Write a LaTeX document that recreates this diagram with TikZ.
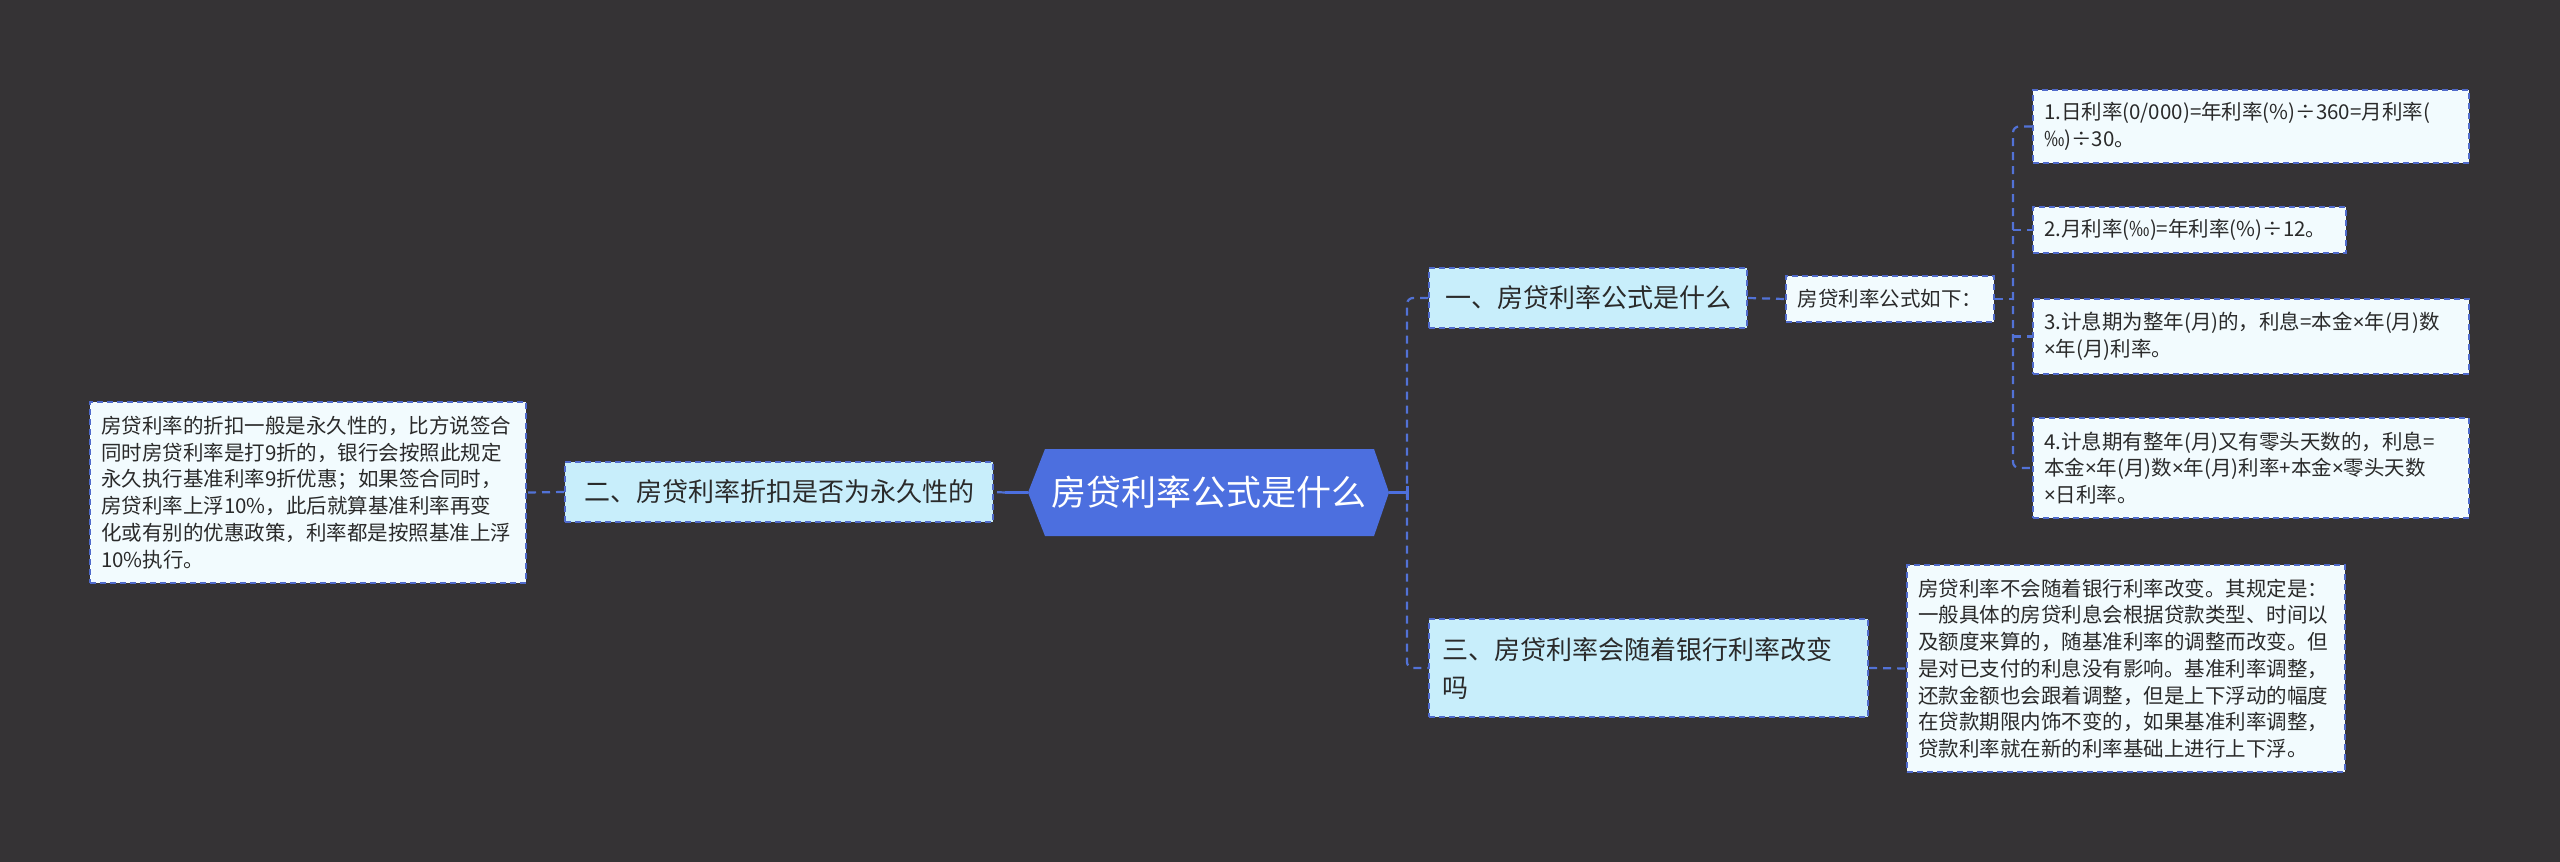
\documentclass[tikz,border=0pt]{standalone}
\usepackage{fontspec}
\setmainfont{Noto Sans CJK SC}
\newfontfamily\latf{Noto Sans}
\newcommand{\tms}{{\latf ×}}
\definecolor{bg}{HTML}{353335}
\definecolor{rootc}{HTML}{4C6FDF}
\definecolor{lonefill}{HTML}{C8EEFB}
\definecolor{detfill}{HTML}{F2FBFE}
\definecolor{boxline}{HTML}{4F6ACB}
\definecolor{linec}{HTML}{5272D6}
\definecolor{txt}{HTML}{2A2A2A}
\begin{document}
\begin{tikzpicture}[x=1pt,y=-1pt,
  box/.style={draw=boxline, dash pattern=on 6pt off 4pt, line width=2pt, inner ysep=0pt, anchor=center},
  lone/.style={box, fill=lonefill, text=txt, inner xsep=13pt, minimum height=60pt, font=\fontsize{26}{38}\selectfont},
  det/.style={box, fill=detfill, text=txt, inner xsep=11pt, align=left, font=\fontsize{20.5}{26.7}\selectfont},
  conn/.style={draw=linec, line width=2.2pt, dash pattern=on 8pt off 6pt},
  rootline/.style={draw=rootc, line width=3pt}]
\fill[bg] (0,0) rectangle (2560,862);
\useasboundingbox (0,0) rectangle (2560,862);

% root hexagon
\fill[rootc] (1028,492.5) -- (1045,449) -- (1374,449) -- (1389,492.5) -- (1374,536) -- (1045,536) -- cycle;
\node[inner sep=0pt, minimum width=361pt, minimum height=87pt, text=white, font=\fontsize{35}{40}\selectfont] (root) at (1208.5,492.5) {房贷利率公式是什么};

% level one
\node[lone, minimum width=318pt] (n1) at (1588,298) {一、房贷利率公式是什么};
\node[lone, minimum width=428pt] (n2) at (779,492) {二、房贷利率折扣是否为永久性的};
\node[lone, minimum width=439pt, minimum height=98pt, text width=413pt, align=left] (n3) at (1648.5,668) {三、房贷利率会随着银行利率改变\\吗};

% details
\node[det, minimum width=208pt, minimum height=46pt, align=center] (n1d) at (1890,299) {房贷利率公式如下：};
\node[det, text width=414pt, minimum height=181pt] (n2d) at (308,492.5) {房贷利率的折扣一般是永久性的，比方说签合\\同时房贷利率是打9折的，银行会按照此规定\\永久执行基准利率9折优惠；如果签合同时，\\房贷利率上浮10\%，此后就算基准利率再变\\化或有别的优惠政策，利率都是按照基准上浮\\10\%执行。};
\node[det, text width=414pt, minimum height=73pt] (i1) at (2251,126.5) {1.日利率(0/000)=年利率(\%)÷360=月利率(\\‰)÷30。};
\node[det, text width=291pt, minimum height=46pt] (i2) at (2189.5,230) {2.月利率(‰)=年利率(\%)÷12。};
\node[det, text width=414pt, minimum height=75pt] (i3) at (2251,336.5) {3.计息期为整年(月)的，利息=本金\tms 年(月)数\\\tms 年(月)利率。};
\node[det, text width=414pt, minimum height=100pt] (i4) at (2251,468) {4.计息期有整年(月)又有零头天数的，利息=\\本金\tms 年(月)数\tms 年(月)利率+本金\tms 零头天数\\\tms 日利率。};
\node[det, text width=416pt, minimum height=207pt] (n3d) at (2126,668.5) {房贷利率不会随着银行利率改变。其规定是：\\一般具体的房贷利息会根据贷款类型、时间以\\及额度来算的，随基准利率的调整而改变。但\\是对已支付的利息没有影响。基准利率调整，\\还款金额也会跟着调整，但是上下浮动的幅度\\在贷款期限内饰不变的，如果基准利率调整，\\贷款利率就在新的利率基础上进行上下浮。};

% connectors
\coordinate (lj) at (1005,492.5);
\coordinate (rj) at (1407,492.5);
\coordinate (ij) at (2013,299);
\draw[rootline] (root.west) -- (lj);
\draw[conn] (lj) -- (n2.east);
\draw[conn] (n2.west) -- (n2d.east);
\draw[rootline] (root.east) -- (rj);
\draw[rootline] ([yshift=-7pt]rj) -- ([yshift=7pt]rj);
\draw[conn, rounded corners=6pt] (n1.west) -| (rj) |- (n3.west);
\draw[conn] (n1.east) -- (n1d.west);
\draw[conn] (n3.east) -- (n3d.west);
\draw[conn] (n1d.east) -- (ij);
\draw[conn, rounded corners=6pt] (i1.west) -| (ij) |- (i4.west);
\draw[conn] (ij |- i2.west) -- (i2.west);
\draw[conn] (ij |- i3.west) -- (i3.west);
\end{tikzpicture}
\end{document}
